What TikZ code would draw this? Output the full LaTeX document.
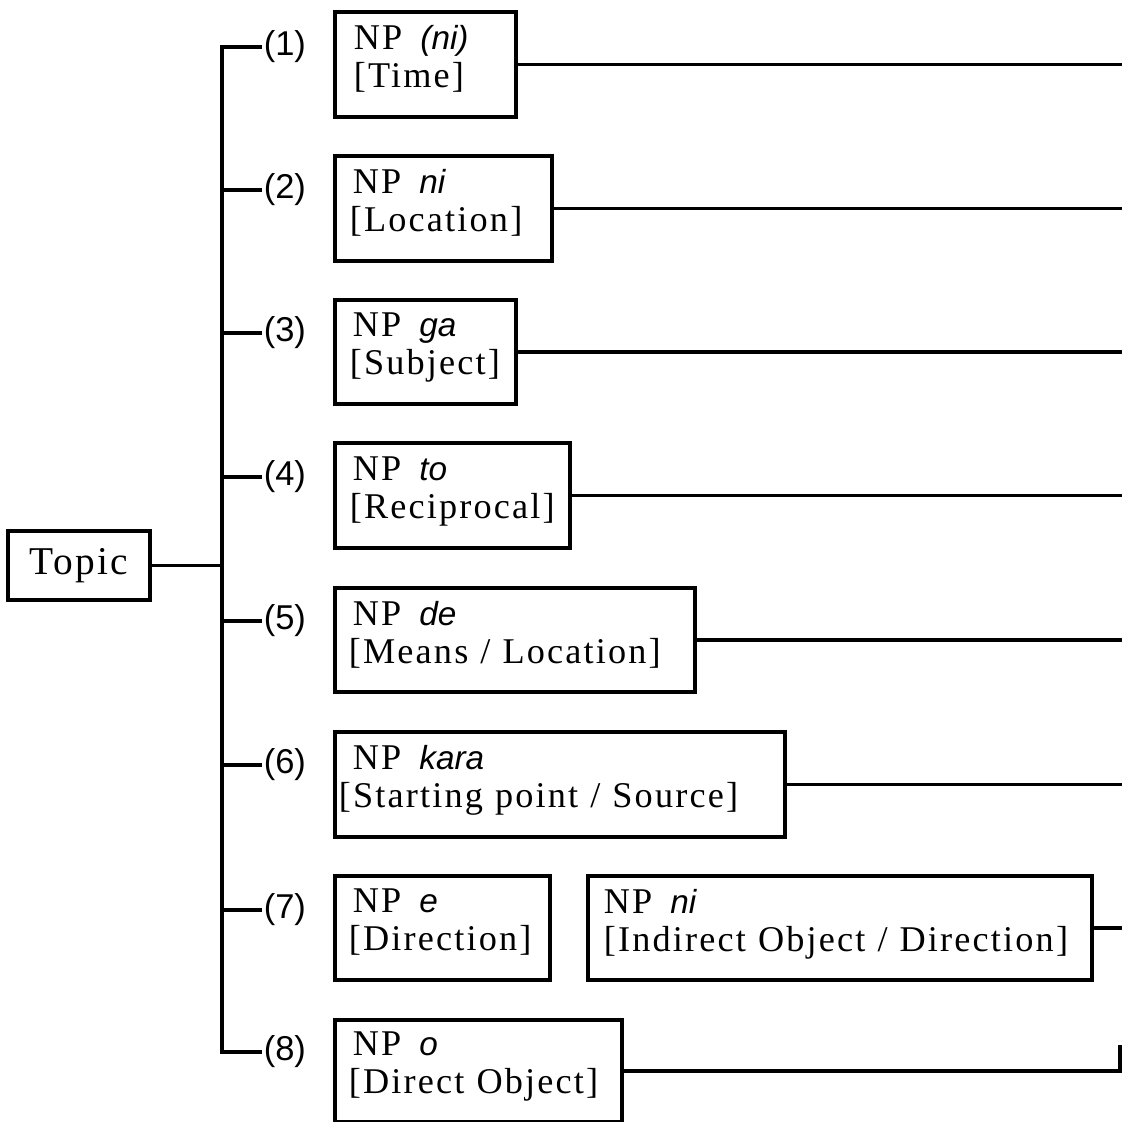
\documentclass[tikz,border=0pt]{standalone}
\usepackage{fontspec}
\setmainfont{Liberation Serif}[LetterSpace=6,WordSpace=2.5]
\setsansfont{Liberation Sans}
\newfontfamily\lblfont{Liberation Sans}
\newfontfamily\ptfont{Liberation Sans}[Scale=0.92]
\newcommand\ptc[1]{{\ptfont\itshape #1}}
\newcommand\npx{NP\hspace{0.5em}}
\newcommand\twoline[2]{\mbox{#1}\\\mbox{#2}}
\begin{document}
\begin{tikzpicture}[x=0.01cm,y=-0.01cm,line width=1.05pt,
  box/.style={draw,line width=1.05pt,anchor=north west,align=left,inner ysep=0pt,
    text depth=15.3pt,font=\fontsize{10.3}{10.8}\selectfont},
  lbl/.style={anchor=west,inner sep=0pt,font=\lblfont\fontsize{9.8}{11}\selectfont},
  conn/.style={line width=1.05pt}]
\useasboundingbox (0,0) rectangle (1122,1122);

% Topic
\node[draw,line width=1.05pt,minimum width=1.42cm,minimum height=0.69cm,inner sep=0pt,
  font=\fontsize{11.2}{12}\selectfont] (topic) at (79,565.5) {Topic\hspace{0.1cm}};

% trunk coordinates
\coordinate (t1) at (222,47);
\coordinate (t2) at (222,190);
\coordinate (t3) at (222,333);
\coordinate (t4) at (222,477);
\coordinate (t5) at (222,621);
\coordinate (t6) at (222,765);
\coordinate (t7) at (222,910);
\coordinate (t8) at (222,1052);

% labels
\node[lbl] (l1) at (262,47) {(1)};
\node[lbl] (l2) at (262,190) {(2)};
\node[lbl] (l3) at (262,333) {(3)};
\node[lbl] (l4) at (262,477) {(4)};
\node[lbl] (l5) at (262,621) {(5)};
\node[lbl] (l6) at (262,765) {(6)};
\node[lbl] (l7) at (262,910) {(7)};
\node[lbl] (l8) at (262,1052) {(8)};

% boxes
\node[box,minimum width=1.81cm,minimum height=1.05cm,inner xsep=0.19cm,text width=1.43cm]
  (b1) at (333,10) {\twoline{\npx\ptc{(ni)}}{[Time]}};
\node[box,minimum width=2.17cm,minimum height=1.05cm,inner xsep=0.15cm,text width=1.87cm]
  (b2) at (333,154) {\twoline{\hspace*{0.03cm}\npx\ptc{ni}}{[Location]}};
\node[box,minimum width=1.81cm,minimum height=1.04cm,inner xsep=0.15cm,text width=1.51cm]
  (b3) at (333,298) {\twoline{\hspace*{0.03cm}\npx\ptc{ga}}{[Subject]}};
\node[box,minimum width=2.35cm,minimum height=1.05cm,inner xsep=0.15cm,text width=2.05cm]
  (b4) at (333,441) {\twoline{\hspace*{0.03cm}\npx\ptc{to}}{[Reciprocal]}};
\node[box,minimum width=3.60cm,minimum height=1.04cm,inner xsep=0.14cm,text width=3.32cm]
  (b5) at (333,586) {\twoline{\hspace*{0.04cm}\npx\ptc{de}}{[Means / Location]}};
\node[box,minimum width=4.50cm,minimum height=1.05cm,inner xsep=0.04cm,text width=4.42cm]
  (b6) at (333,730) {\twoline{\hspace*{0.14cm}\npx\ptc{kara}}{[Starting point / Source]}};
\node[box,minimum width=2.15cm,minimum height=1.04cm,inner xsep=0.14cm,text width=1.87cm]
  (b7a) at (333,874) {\twoline{\hspace*{0.04cm}\npx\ptc{e}}{[Direction]}};
\node[box,minimum width=5.04cm,minimum height=1.04cm,inner xsep=0.16cm,text width=4.72cm]
  (b7b) at (586,874) {\twoline{\npx\ptc{ni}}{[Indirect Object / Direction]}};
\node[box,minimum width=2.87cm,minimum height=1.02cm,inner xsep=0.14cm,text width=2.59cm]
  (b8) at (333,1018) {\twoline{\hspace*{0.04cm}\npx\ptc{o}}{[Direct Object]}};

% right edge
\coordinate (edge) at (1122,0);
\coordinate (e8) at (1120,1045);

% connectors
\draw[conn] (topic.east) -- (topic.east -| t1);
\draw[conn] (l1.west) -- (t1) -- (t8) -- (l8.west);
\foreach \i in {2,...,7} {\draw[conn] (t\i) -- (l\i.west);}
\foreach \b in {b1,b2,b3,b4,b5,b6,b7b} {\draw[conn] (\b.east) -- (\b.east -| edge);}
\draw[conn] (b8.east) -| (e8);
\end{tikzpicture}
\end{document}
